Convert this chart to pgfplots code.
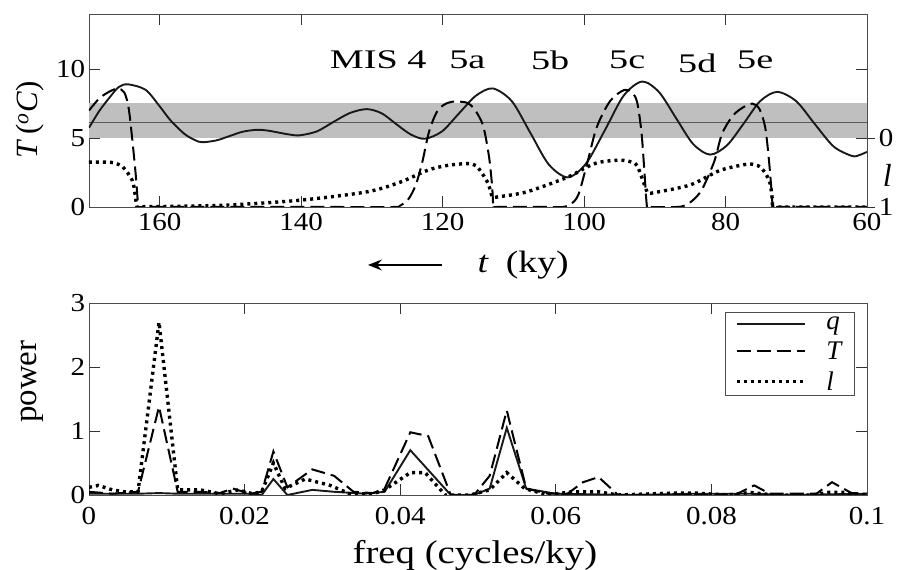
\documentclass[border=0pt]{standalone}
\usepackage{fontspec}
\setmainfont{Liberation Serif}
\usepackage{pgfplots}
\pgfplotsset{compat=1.18}
\usetikzlibrary{arrows.meta}

\pgfplotsset{
  base/.style={
    scale only axis, width=778bp, clip mode=individual,
    axis line style={draw=black!70, line width=0.9bp},
    tick style={draw=black!80, line width=0.9bp},
    tick align=inside, major tick length=11bp,
    tick label style={font=\fontsize{26}{26}\selectfont, xscale=1.12},
    /pgf/number format/assume math mode=true,
  },
  qline/.style={black!90, line width=1.9bp},
  Tline/.style={black, line width=2.0bp, dash pattern=on 14bp off 6bp},
  lline/.style={black, line width=3.4bp, dash pattern=on 3bp off 4bp},
}
\tikzset{mis/.style={font=\fontsize{27}{27}\selectfont, xscale=1.42}}

\begin{document}
\begin{tikzpicture}
\path[use as bounding box] (0bp,0bp) rectangle (897bp,570bp);

% top panel: T (left) and l (right, reversed)
\begin{axis}[base, at={(89bp,363bp)}, anchor=south west, height=193bp,
  x dir=reverse, xmin=60, xmax=170, ymin=0, ymax=14,
  xtick={60,80,100,120,140,160}, ytick={0,5,10},
  xticklabel style={yshift=-3bp},
  ylabel={\textit{T}\,(\textsuperscript{\textit{o}}\textit{C})},
  ylabel style={at={(axis description cs:-0.076,0.45)}, anchor=center,
    font=\fontsize{31}{31}\selectfont},
]
\addplot[draw=none, fill=black!25] coordinates {(170,5.0) (170,7.55) (60,7.55) (60,5.0)} -- cycle;
\addplot[black!65, line width=0.9bp] coordinates {(170,6.1) (60,6.1)};

\addplot[qline, smooth] coordinates {
(170,5.75) (168.5,7.0) (167,8.0) (165.8,8.7) (164.5,8.9) (162,8.5) (160,7.3)
(158.5,6.3) (156.5,5.3) (155,4.85) (154,4.7) (152,4.83) (150.1,5.15)
(148.2,5.47) (146.2,5.6) (144.7,5.54) (143.2,5.4) (141.7,5.26) (140.2,5.2)
(137.8,5.48) (135.5,6.15) (133.1,6.82) (130.7,7.1) (128.6,6.79) (126.6,6.03)
(124.5,5.26) (122.5,4.95) (120.1,5.48) (117.7,6.78) (115.3,8.07) (112.9,8.6)
(110.2,7.66) (107.6,5.38) (105,3.09) (102.3,2.15) (99.7,3.17) (97,5.63)
(94.4,8.08) (91.8,9.1) (89.4,8.33) (87,6.45) (84.6,4.58) (82.2,3.8)
(79.8,4.47) (77.4,6.08) (75.1,7.68) (72.7,8.35) (70,7.67) (67.4,6.03)
(64.7,4.38) (62.1,3.7) (61,3.78) (60,4.0)};

\addplot[Tline, smooth] coordinates {
(170,7.0) (168.5,7.9) (167,8.4) (165.9,8.6) (165,8.3) (164.4,7.2) (163.9,5.0)
(163.4,2.4) (163.0,0) (162.5,0) (150,0) (135,0) (127,0) (126,0.1)
(124.8,0.6) (123.8,1.6) (122.9,3.2) (121.9,5.5) (120.7,7.0) (119.3,7.55)
(118,7.65) (116.5,7.55) (115.5,7.1) (114.5,6.2) (114.0,5.3) (113.4,3.5)
(113.0,1.5) (112.8,0) (112.3,0) (105,0) (103,0) (101.9,0.2) (100.8,0.9)
(99.5,3.3) (98.2,5.8) (96.3,7.7) (94.3,8.5) (93.2,8.3) (92.5,7.6) (91.9,5.5)
(91.5,2.8) (91.1,0) (90.6,0) (87,0) (85.8,0.1) (84.6,0.5) (83.3,1.3)
(81.6,3.3) (80.5,5.3) (79,6.6) (77.6,7.2) (76.2,7.5) (75.2,7.1)
(74.4,5.8) (73.9,3.6) (73.5,1.2) (73.3,0) (72.8,0) (60,0)};

\node[mis] at (axis cs:129.1,10.65) {MIS 4};
\node[mis] at (axis cs:116.5,10.65) {5a};
\node[mis] at (axis cs:104.8,10.65) {5b};
\node[mis] at (axis cs:93.9,10.65) {5c};
\node[mis] at (axis cs:84.0,10.4) {5d};
\node[mis] at (axis cs:75.8,10.65) {5e};

\draw[line width=1.2bp, -{Stealth[length=14bp,width=11bp,inset=5bp]}]
  (axis description cs:0.4537,-0.3005) -- (axis description cs:0.3586,-0.3005);
\node[anchor=west, font=\fontsize{31}{31}\selectfont, xscale=1.22]
  at (axis description cs:0.494,-0.30) {\textit{t}\hspace{14bp}(ky)};
\end{axis}

\begin{axis}[base, at={(89bp,363bp)}, anchor=south west, height=193bp,
  x dir=reverse, xmin=60, xmax=170, ymin=-1.8, ymax=1, y dir=reverse,
  axis x line=none, axis y line*=right, ytick={0,1},
  tick align=outside, major tick length=8bp,
]
\addplot[lline, smooth] coordinates {
(170,0.35) (167.5,0.35) (166.5,0.36) (165.2,0.42) (163.9,0.61) (163.5,0.8)
(163.2,1) (162.5,0.996) (158,0.99) (150,0.97) (140,0.9) (130.7,0.78)
(126,0.64) (122.2,0.47) (119.5,0.4) (116.5,0.37) (115.3,0.4) (114.7,0.47)
(113.6,0.65) (113.1,0.82) (112.9,0.86) (112,0.85) (108.1,0.78) (102.4,0.57)
(99.6,0.42) (97.8,0.35) (94.9,0.32) (93.2,0.35) (92.5,0.4) (91.7,0.61)
(91.1,0.78) (90.8,0.8) (90,0.79) (85.0,0.68) (80.8,0.47) (77.0,0.38)
(75.8,0.39) (75.1,0.42) (74.3,0.52) (73.7,0.66) (73.4,0.88) (73.3,1)
(72.5,1) (60,1)};
\node[font=\fontsize{32}{32}\selectfont] at (axis description cs:1.026,0.166) {\textit{l}};
\end{axis}

% bottom panel: power spectra
\begin{axis}[base, at={(89bp,75bp)}, anchor=south west, height=192bp,
  xmin=0, xmax=0.1, ymin=0, ymax=3,
  xtick={0,0.02,0.04,0.06,0.08,0.1}, ytick={0,1,2,3},
  xticklabel style={/pgf/number format/fixed, yshift=-9bp},
  xlabel={freq (cycles/ky)}, ylabel={power},
  xlabel style={at={(axis description cs:0.496,-0.3125)}, anchor=center,
    font=\fontsize{33}{33}\selectfont, xscale=1.18},
  ylabel style={at={(axis description cs:-0.073,0.59)}, anchor=center,
    font=\fontsize{33}{33}\selectfont},
  legend style={at={(axis description cs:0.985,0.953)}, anchor=north east,
    draw=black!70, line width=0.9bp, font=\fontsize{27}{27}\selectfont,
    inner xsep=10bp, inner ysep=2bp, row sep=7bp, column sep=18bp},
  legend cell align=left,
  legend image code/.code={\draw[#1] (0bp,0bp) -- (68bp,0bp);},
]
\addplot[qline] coordinates {
(0,0.02) (0.0063,0.02) (0.009,0.03) (0.0114,0.02) (0.0168,0.02) (0.0207,0.02)
(0.0222,0.0) (0.0237,0.25) (0.0255,0.0) (0.0287,0.08) (0.0315,0.05)
(0.0355,0.02) (0.038,0.05) (0.0413,0.7) (0.0465,0.0) (0.0495,0.0)
(0.0515,0.1) (0.0537,1.05) (0.0562,0.1) (0.06,0.02) (0.07,0.0) (0.078,0.02)
(0.085,0.02) (0.09,0.0) (0.1,0.02)};
\addlegendentry{\textit{q}}
\addplot[Tline] coordinates {
(0,0.05) (0.003,0.02) (0.0063,0.05) (0.009,1.38) (0.0114,0.05) (0.0143,0.05)
(0.0168,0.03) (0.0185,0.1) (0.0207,0.02) (0.0222,0.05) (0.0237,0.68)
(0.0255,0.12) (0.0287,0.4) (0.0315,0.3) (0.034,0.05) (0.0365,0.03)
(0.038,0.1) (0.0413,0.98) (0.0436,0.92) (0.0465,0.0) (0.0495,0.0)
(0.0515,0.3) (0.0537,1.32) (0.0562,0.1) (0.059,0.02) (0.0615,0.02)
(0.0635,0.2) (0.0655,0.28) (0.068,0.0) (0.083,0.0) (0.0855,0.15)
(0.0875,0.02) (0.0935,0.02) (0.0955,0.2) (0.098,0.03) (0.1,0.02)};
\addlegendentry{\textit{T}}
\addplot[lline] coordinates {
(0,0.12) (0.0012,0.15) (0.003,0.08) (0.0045,0.05) (0.0063,0.05) (0.009,2.7)
(0.0114,0.08) (0.0143,0.08) (0.0168,0.02) (0.0192,0.08) (0.021,0.02)
(0.0222,0.05) (0.0237,0.5) (0.0252,0.1) (0.0278,0.25) (0.031,0.15)
(0.0335,0.02) (0.0365,0.02) (0.038,0.08) (0.0413,0.35) (0.0432,0.35)
(0.0458,0.0) (0.049,0.0) (0.0515,0.08) (0.0537,0.35) (0.056,0.1) (0.059,0.0)
(0.062,0.05) (0.0655,0.05) (0.068,0.0) (0.075,0.03) (0.078,0.03) (0.082,0.0)
(0.085,0.04) (0.088,0.0) (0.093,0.0) (0.095,0.04) (0.097,0.04) (0.1,0.0)};
\addlegendentry{\textit{l}}
\end{axis}
\end{tikzpicture}
\end{document}
